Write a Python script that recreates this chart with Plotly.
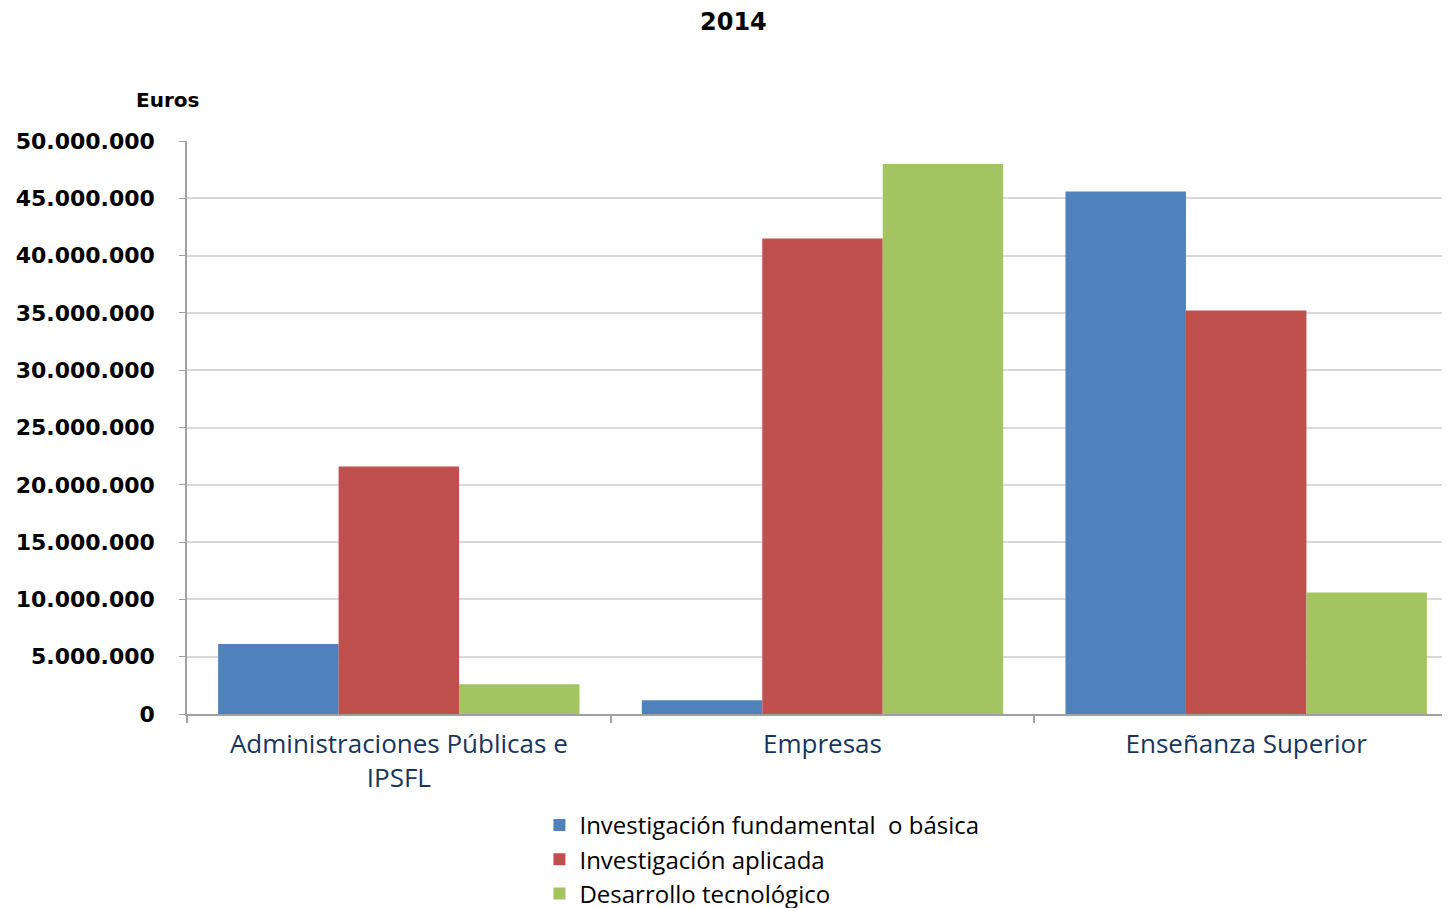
import plotly.graph_objects as go

categories = ["Administraciones Públicas e<br>IPSFL", "Empresas", "Enseñanza Superior"]
series_names = ["Investigación fundamental  o básica", "Investigación aplicada", "Desarrollo tecnológico"]
basica = [6100000, 1200000, 45600000]
aplicada = [21600000, 41500000, 35200000]
desarrollo = [2600000, 48000000, 10600000]
colors = ["#4F81BD", "#C0504D", "#A3C461"]
y_ticks = [0, 5000000, 10000000, 15000000, 20000000, 25000000, 30000000, 35000000, 40000000, 45000000, 50000000]

FONT = "Open Sans"
BOLD = "DejaVu Sans"

# plot area on screen: left 187, bottom 714, width 1255, height 573
PX0, PY0, PW, PH = 187, 714, 1255, 573

fig = go.Figure()
for name, vals, col in zip(series_names, [basica, aplicada, desarrollo], colors):
    fig.add_trace(go.Bar(x=categories, y=vals, name=name, marker=dict(color=col, line=dict(width=0))))

fig.update_layout(
    width=1450, height=908,
    paper_bgcolor="white", plot_bgcolor="white",
    separators=",.",
    barmode="group", bargap=0.147, bargroupgap=0,
    margin=dict(l=179, r=0, t=133, b=186),
    font=dict(family=FONT, color="black"),
    xaxis=dict(showline=True, linecolor="#A0A0A0", linewidth=1.5, ticks="outside", tickson="boundaries",
               ticklen=7, tickcolor="#A0A0A0", tickwidth=1.5, automargin=False,
               tickfont=dict(size=26, color="#17365D", family=FONT), showgrid=False,
               ticklabelstandoff=6),
    yaxis=dict(range=[0, 50000000], tickvals=y_ticks, tickformat=",d", showline=True, linecolor="#A0A0A0",
               linewidth=1.5, ticks="outside", ticklen=6, tickcolor="#A0A0A0", automargin=False,
               showgrid=True, gridcolor="#D9D9D9", gridwidth=1.5, zeroline=False,
               tickfont=dict(size=22, color="black", family=BOLD, weight="bold"), ticklabelstandoff=20),
    legend=dict(orientation="v", x=(535 - PX0) / PW, xanchor="left", y=-0.156, yanchor="top",
                font=dict(size=24, color="black", family=FONT), tracegroupgap=0, itemwidth=30),
    showlegend=True,
    annotations=[
        dict(text="<b>2014</b>", xref="paper", yref="paper", x=(727 - PX0) / PW, y=(PY0 - 22) / PH,
             xanchor="center", yanchor="middle", showarrow=False,
             font=dict(size=24, color="black", family=BOLD)),
        dict(text="<b>Euros</b>", xref="paper", yref="paper", x=(168 - PX0) / PW, y=(PY0 - 100) / PH,
             xanchor="center", yanchor="middle", showarrow=False,
             font=dict(size=20, color="black", family=BOLD)),
    ],
)

fig.write_html("out.html")
